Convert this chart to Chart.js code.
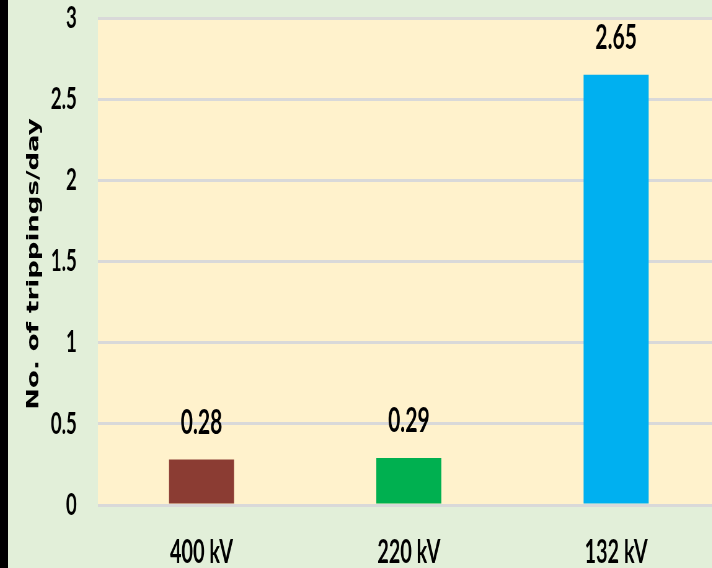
<!DOCTYPE html>
<html>
<head>
<meta charset="utf-8">
<script src="https://cdn.jsdelivr.net/npm/chart.js@4"></script>
<style>
	html, body { margin: 0; padding: 0; width: 712px; height: 568px; overflow: hidden; background: #000; }
	#wrap { position: absolute; left: 8px; top: 0; width: 712px; height: 568px; overflow: hidden; background: #e2efd9; }
	/* the reference picture is squeezed sideways, so draw wide and squeeze */
	#canvas { position: absolute; left: 0; top: 0; transform: scaleX(0.62); transform-origin: 0 0; }
</style>
</head>
<body>
<div id="wrap"><canvas id="canvas" width="1148" height="568"></canvas></div>
<script>
'use strict';

var categories = ['400 kV', '220 kV', '132 kV'];
var trippings = [0.28, 0.29, 2.65];
var barColors = ['#8b3c33', '#00b050', '#00b0f0'];
var yTicks = [0, 0.5, 1, 1.5, 2, 2.5, 3];
var yTitle = 'No. of trippings/day';

var tickFont = "Lato, 'Open Sans', sans-serif";

// yellow plot background
var plotBackground = {
	id: 'plotBackground',
	beforeDraw: function(chart) {
		var ctx = chart.ctx;
		var a = chart.chartArea;
		ctx.save();
		ctx.fillStyle = '#fff2cc';
		ctx.fillRect(a.left, a.top, a.right - a.left, a.bottom - a.top);
		ctx.restore();
	}
};

// value labels above bars + y title
var extras = {
	id: 'extras',
	afterDatasetsDraw: function(chart) {
		var ctx = chart.ctx;
		var meta = chart.getDatasetMeta(0);
		ctx.save();
		ctx.fillStyle = '#000';
		ctx.font = 'bold 34px ' + tickFont;
		ctx.textAlign = 'center';
		ctx.textBaseline = 'middle';
		for (var i = 0; i < meta.data.length; i++) {
			var bar = meta.data[i];
			ctx.fillText(trippings[i].toFixed(2), bar.x, bar.y - 37);
		}
		ctx.restore();

		ctx.save();
		ctx.translate(42, 264);
		ctx.rotate(-Math.PI / 2);
		ctx.font = "bold 26px 'DejaVu Sans', sans-serif";
		ctx.fillStyle = '#000';
		ctx.textAlign = 'center';
		ctx.textBaseline = 'middle';
		ctx.fillText(yTitle, 0, 0);
		ctx.restore();
	}
};

var config = {
	type: 'bar',
	data: {
		labels: categories,
		datasets: [{
			data: trippings,
			backgroundColor: barColors,
			borderWidth: 0,
			barPercentage: 0.314,
			categoryPercentage: 1
		}]
	},
	options: {
		responsive: false,
		animation: false,
		devicePixelRatio: 1,
		layout: { padding: { top: 18, right: 0, left: 0, bottom: 0 } },
		plugins: {
			legend: { display: false },
			tooltip: { enabled: false }
		},
		scales: {
			x: {
				grid: { display: false, drawTicks: false },
				border: { display: false },
				ticks: {
					color: '#000',
					font: { family: tickFont, size: 32, weight: 'bold' },
					padding: 28
				},
				afterFit: function(scale) {
					scale.height = 63;
					scale.paddingLeft = 0;
					scale.paddingRight = 0;
				}
			},
			y: {
				min: 0,
				max: 3,
				afterBuildTicks: function(scale) {
					scale.ticks = yTicks.map(function(v) { return { value: v }; });
				},
				grid: { color: '#d9d9d9', lineWidth: 3, drawTicks: false },
				border: { display: false },
				ticks: {
					color: '#000',
					font: { family: tickFont, size: 30, weight: 'bold' },
					padding: 34,
					callback: function(v) { return String(v); }
				},
				afterFit: function(scale) {
					scale.width = 145;
					scale.paddingTop = 0;
					scale.paddingBottom = 0;
				}
			}
		}
	},
	plugins: [plotBackground, extras]
};

var ctx = document.getElementById('canvas').getContext('2d');
window.mychart = new Chart(ctx, config);
</script>
</body>
</html>
